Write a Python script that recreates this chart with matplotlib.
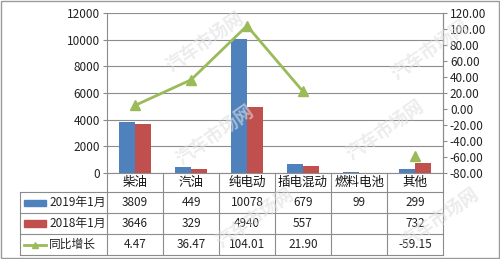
import numpy as np
import matplotlib
matplotlib.use("Agg")
import matplotlib.pyplot as plt
from matplotlib.lines import Line2D
from matplotlib.patches import Rectangle

plt.rcParams['font.family'] = ['Noto Sans CJK SC', 'DejaVu Sans']

categories = ['柴油', '汽油', '纯电动', '插电混动', '燃料电池', '其他']
sales_2019 = [3809, 449, 10078, 679, 99, 299]
sales_2018 = [3646, 329, 4940, 557, np.nan, 732]
growth = [4.47, 36.47, 104.01, 21.90, np.nan, -59.15]
series_names = ['2019年1月', '2018年1月', '同比增长']
row_2019 = ['3809', '449', '10078', '679', '99', '299']
row_2018 = ['3646', '329', '4940', '557', '', '732']
row_growth = ['4.47', '36.47', '104.01', '21.90', '', '-59.15']

blue = '#4F81BD'
red = '#C0504D'
green = '#9BBB59'
gridc = '#8c8c8c'

W, H = 500, 259
fig = plt.figure(figsize=(5.0, 2.59), dpi=100)
fig.patch.set_facecolor('white')

def fx(px):
    return px / W

def fy(py):
    return 1 - py / H

ax_l, ax_r, ax_t, ax_b = 107, 443, 13, 173
ax = fig.add_axes([fx(ax_l), fy(ax_b), fx(ax_r - ax_l), fy(ax_t) - fy(ax_b)])
x = np.arange(len(categories))
bw = 0.29
ax.bar(x - bw / 2, sales_2019, bw, color=blue, zorder=3)
ax.bar(x + bw / 2, sales_2018, bw, color=red, zorder=3)
ax.set_xlim(-0.5, len(categories) - 0.5)
ax.set_ylim(0, 12000)
ax.set_yticks(np.arange(0, 12001, 2000))
ax.set_yticklabels([str(v) for v in range(0, 12001, 2000)])
ax.yaxis.grid(True, color=gridc, linewidth=0.8, zorder=0)
ax.set_xticks([])
ax.spines['top'].set_visible(False)
for s in ['left', 'right', 'bottom']:
    ax.spines[s].set_color(gridc)
    ax.spines[s].set_linewidth(0.8)
ax.tick_params(axis='y', labelsize=8.5, length=3, color=gridc, pad=2, labelcolor='#222222')

ax2 = ax.twinx()
ax2.plot(x, growth, color=green, linewidth=2, marker='^', markersize=7,
         markerfacecolor=green, markeredgecolor=green, zorder=4)
ax2.set_ylim(-80, 120)
ax2.set_yticks(np.arange(-80, 121, 20))
ax2.set_yticklabels([f'{v:.2f}' for v in range(-80, 121, 20)])
ax2.tick_params(axis='y', labelsize=8.5, length=3, color=gridc, pad=2, labelcolor='#222222')
for s in ['top', 'left', 'bottom']:
    ax2.spines[s].set_visible(False)
ax2.spines['right'].set_color(gridc)
ax2.spines['right'].set_linewidth(0.8)

# data table
tl = 20
col_edges = [107 + i * (443 - 107) / 6 for i in range(7)]
row_edges = [173, 192, 213, 234, 255]

def hline(py, x0, x1):
    fig.add_artist(Line2D([fx(x0), fx(x1)], [fy(py), fy(py)], color=gridc, linewidth=0.8))

def vline(px, y0, y1):
    fig.add_artist(Line2D([fx(px), fx(px)], [fy(y0), fy(y1)], color=gridc, linewidth=0.8))

for py in row_edges[1:]:
    hline(py, tl, 443)
vline(tl, 192, 255)
for px in col_edges:
    vline(px, 173, 255)

fs = 8.5
for i, c in enumerate(categories):
    cx = (col_edges[i] + col_edges[i + 1]) / 2
    fig.text(fx(cx), fy((row_edges[0] + row_edges[1]) / 2), c, ha='center', va='center', fontsize=9, color='#111111')
    for r, row in enumerate([row_2019, row_2018, row_growth]):
        cy = (row_edges[r + 1] + row_edges[r + 2]) / 2
        fig.text(fx(cx), fy(cy), row[i], ha='center', va='center', fontsize=fs, color='#222222')

# legend keys in row header
for r, name in enumerate(series_names):
    cy = (row_edges[r + 1] + row_edges[r + 2]) / 2
    if r < 2:
        col = blue if r == 0 else red
        fig.add_artist(Rectangle((fx(24), fy(cy + 3)), fx(22), fy(cy - 3) - fy(cy + 3), color=col))
    else:
        fig.add_artist(Line2D([fx(24), fx(46)], [fy(cy), fy(cy)], color=green, linewidth=2))
        fig.add_artist(Line2D([fx(35)], [fy(cy)], color=green, marker='^', markersize=5, linestyle='none'))
    fig.text(fx(49), fy(cy), name, ha='left', va='center', fontsize=fs, color='#222222')

# watermarks
wm = '汽车市场网'
for (px, py) in [(205, 42), (430, 50), (215, 135), (385, 130), (255, 218), (440, 218)]:
    fig.text(fx(px), fy(py), wm, ha='center', va='center', fontsize=13, rotation=35,
             color='#e0e0e0', alpha=0.6, style='italic', fontweight='bold', zorder=10)

# outer border
fig.add_artist(Rectangle((0.001, 0.002), 0.997, 0.996, fill=False, edgecolor='#9a9a9a', linewidth=1))

fig.savefig('out.png', dpi=100)
